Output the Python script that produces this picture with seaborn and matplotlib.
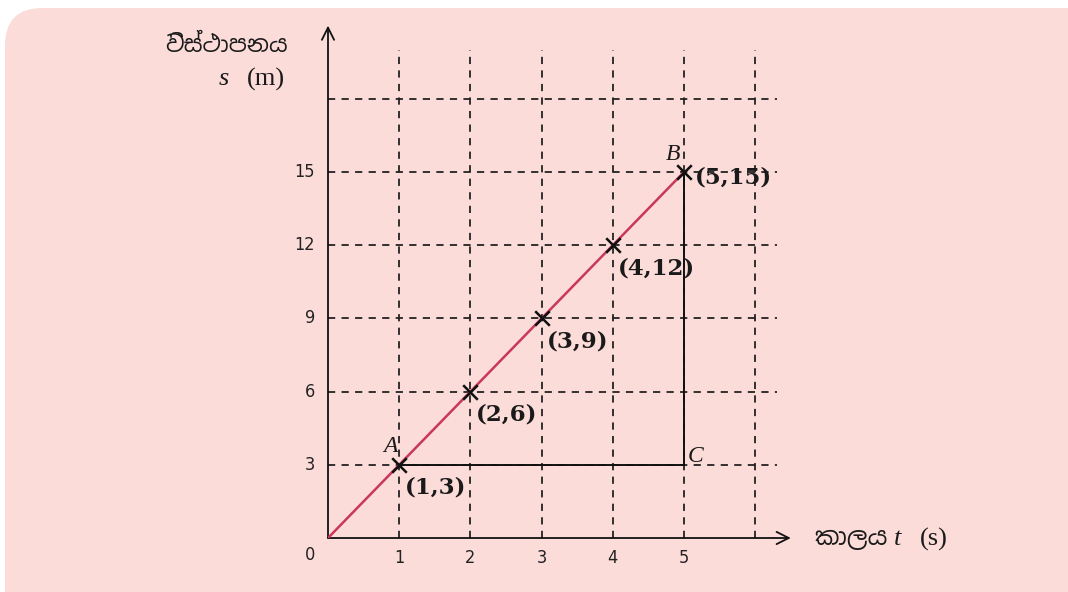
import matplotlib
matplotlib.use("Agg")
import matplotlib.pyplot as plt
import seaborn as sns
import pandas as pd
from matplotlib.patches import FancyBboxPatch

# ---- data ----
t_values = [1, 2, 3, 4, 5]
s_values = [3, 6, 9, 12, 15]
point_labels = ["(1,3)", "(2,6)", "(3,9)", "(4,12)", "(5,15)"]
x_ticks = [0, 1, 2, 3, 4, 5]
y_ticks = [0, 3, 6, 9, 12, 15]
grid_x = [1, 2, 3, 4, 5, 6]
grid_y = [3, 6, 9, 12, 15, 18]
y_label_si = "විස්ථාපනය"
x_label_si = "කාලය"

sns.set_theme(style="white")
plt.rcParams['font.family'] = ['Noto Sans', 'DejaVu Sans']

fig = plt.figure(figsize=(10.68, 5.92), dpi=100)
W, H = 1068, 592

# pink rounded panel
bg = FancyBboxPatch((5 / W, -0.2), 1.2, (592 - 8) / H + 0.2,
                    boxstyle="round,pad=0,rounding_size=0.035",
                    transform=fig.transFigure, facecolor="#fbdcd9",
                    edgecolor="none", zorder=-5, mutation_aspect=W / H)
fig.patches.append(bg)

ax = fig.add_axes([328 / W, (592 - 538) / H, 6.5 * 71.2 / W, 21 * 24.4 / H])
ax.set_zorder(1)
ax.set_facecolor("none")
ax.patch.set_alpha(0)
ax.set_xlim(0, 6.5)
ax.set_ylim(0, 21)
for sp in ax.spines.values():
    sp.set_visible(False)

# dashed grid
for gx in grid_x:
    ax.plot([gx, gx], [0, 20], color="#222222", lw=1.3, ls=(0, (4, 3.5)), zorder=1)
for gy in grid_y:
    ax.plot([0, 6.3], [gy, gy], color="#222222", lw=1.3, ls=(0, (4, 3.5)), zorder=1)

# axes arrows
ax.annotate("", xy=(6.5, 0), xytext=(0, 0),
            arrowprops=dict(arrowstyle="->", color="#111111", lw=1.3,
                            mutation_scale=22, shrinkA=0, shrinkB=0), annotation_clip=False)
ax.annotate("", xy=(0, 21), xytext=(0, 0),
            arrowprops=dict(arrowstyle="->", color="#111111", lw=1.3,
                            mutation_scale=22, shrinkA=0, shrinkB=0), annotation_clip=False)

# triangle sides
ax.plot([t_values[0], t_values[-1]], [s_values[0], s_values[0]], color="#111111", lw=1.4, zorder=2)
ax.plot([t_values[-1], t_values[-1]], [s_values[0], s_values[-1]], color="#111111", lw=1.4, zorder=2)

# the line through origin
df = pd.DataFrame({"t": [0] + t_values, "s": [0] + s_values})
sns.lineplot(data=df, x="t", y="s", ax=ax, color="#c9375c", lw=1.8, zorder=3)
sns.scatterplot(data=pd.DataFrame({"t": t_values, "s": s_values}), x="t", y="s",
                ax=ax, marker="x", s=110, color="#111111", linewidth=1.8, zorder=4)

serif = ["Liberation Serif", "DejaVu Serif"]
bold_serif = ["DejaVu Serif"]
for i, (tx, sy, lab) in enumerate(zip(t_values, s_values, point_labels)):
    off = (8, -4) if i == len(t_values) - 1 else (4, -16.5)
    ax.annotate(lab, (tx, sy), xytext=off, textcoords="offset points",
                ha="left", va="center", fontsize=16.5, fontweight="bold", family=bold_serif,
                color="#1a1a1a")

ax.annotate("A", (1, 3), xytext=(-1, 13), textcoords="offset points", ha="right",
            va="center", fontsize=17, fontstyle="italic", family=serif, color="#1a1a1a")
ax.annotate("B", (5, 15), xytext=(-3, 12.5), textcoords="offset points", ha="right",
            va="center", fontsize=17, fontstyle="italic", family=serif, color="#1a1a1a")
ax.annotate("C", (5, 3), xytext=(3, 6), textcoords="offset points", ha="left",
            va="center", fontsize=17, fontstyle="italic", family=serif, color="#1a1a1a")

# ticks as text
ax.set_xticks([])
ax.set_yticks([])
ax.set_xlabel("")
ax.set_ylabel("")
tick_font = dict(fontsize=13, family=["DejaVu Sans"], fontstretch="condensed", color="#222222")
for xt in x_ticks[1:]:
    ax.annotate(str(xt), (xt, 0), xytext=(0, -14.5), textcoords="offset points",
                ha="center", va="center", **tick_font)
ax.annotate(str(x_ticks[0]), (0, 0), xytext=(-13, -12), textcoords="offset points",
            ha="center", va="center", **tick_font)
for yt in y_ticks[1:]:
    ax.annotate(str(yt), (0, yt), xytext=(-9.5, 0), textcoords="offset points",
                ha="right", va="center", **tick_font)

# axis labels
sinhala = ["Noto Sans Sinhala", "Noto Serif Sinhala", "Noto Sans", "DejaVu Sans"]
fig.text(165 / W, 1 - 46 / H, y_label_si, ha="left", va="center", fontsize=16.5,
         family=sinhala, color="#1a1a1a")
fig.text(224 / W, 1 - 79 / H, "s", ha="center", va="center", fontsize=19,
         family=serif, fontstyle="italic", color="#1a1a1a")
fig.text(285 / W, 1 - 79 / H, "(m)", ha="right", va="center", fontsize=19,
         family=serif, color="#1a1a1a")
fig.text(815 / W, 1 - 539 / H, x_label_si, ha="left", va="center", fontsize=17.5,
         family=sinhala, color="#1a1a1a")
fig.text(898 / W, 1 - 539 / H, "t", ha="center", va="center", fontsize=19,
         family=serif, fontstyle="italic", color="#1a1a1a")
fig.text(920 / W, 1 - 539 / H, "(s)", ha="left", va="center", fontsize=19,
         family=serif, color="#1a1a1a")

fig.savefig("out.png", dpi=100)
